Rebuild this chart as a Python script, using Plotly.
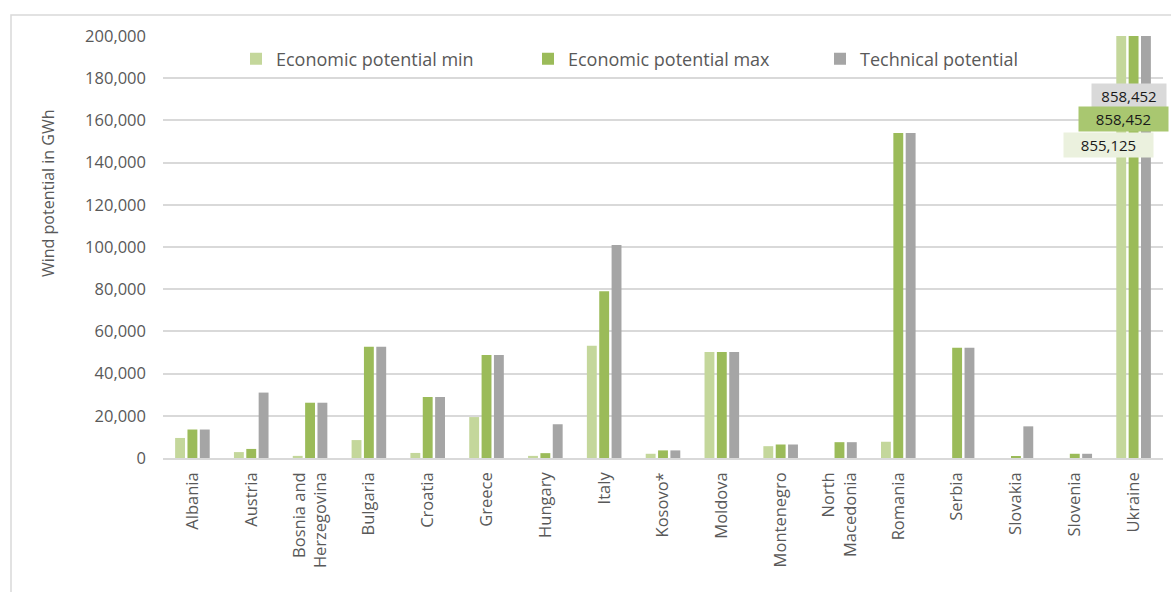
import plotly.graph_objects as go

countries = ["Albania", "Austria", "Bosnia and<br>Herzegovina", "Bulgaria", "Croatia",
             "Greece", "Hungary", "Italy", "Kosovo*", "Moldova", "Montenegro",
             "North<br>Macedonia", "Romania", "Serbia", "Slovakia", "Slovenia", "Ukraine"]

econ_min = [9500, 2800, 1000, 8500, 2400, 19400, 1000, 53200, 2000, 50200, 5600,
            0, 7700, 0, 0, 0, 855125]
econ_max = [13500, 4300, 26200, 52700, 28900, 48800, 2300, 79000, 3600, 50200, 6400,
            7500, 154000, 52300, 500, 2000, 858452]
technical = [13500, 31000, 26200, 52700, 28900, 48800, 16000, 101000, 3600, 50200, 6400,
             7500, 154000, 52300, 15000, 2000, 858452]

series = [
    ("Economic potential min", econ_min, "#c4d79b"),
    ("Economic potential max", econ_max, "#9bbb59"),
    ("Technical potential", technical, "#a5a5a5"),
]

fig = go.Figure()
for name, vals, color in series:
    fig.add_trace(go.Bar(name=name, x=countries, y=vals, marker_color=color,
                         marker_line_width=0))

# plot area geometry in pixels
L, R, T, B = 163, 8, 36, 134
W, H = 1171, 592
pw, ph = W - L - R, H - T - B


def px_x(px):
    return (px - L) / pw


def px_y(py):
    return (H - B - py) / ph


# value labels for the clipped Ukraine bars
labels = [
    (technical[-1], "#d9d9d9", 1129, 96, 72),
    (econ_max[-1], "#a9c770", 1123.5, 119, 87),
    (econ_min[-1], "#ebf1de", 1108.5, 145, 87),
]
for val, bg, cx, cy, w in labels:
    fig.add_annotation(xref="paper", yref="paper", x=px_x(cx), y=px_y(cy),
                       text=f"{val:,}", showarrow=False, bgcolor=bg, width=w, height=22,
                       font=dict(family="Open Sans", size=15, color="#1a1a1a"),
                       xanchor="center", yanchor="middle")

# y-axis title
fig.add_annotation(xref="paper", yref="paper", x=px_x(48), y=px_y(193),
                   text="Wind potential in GWh", showarrow=False, textangle=-90,
                   font=dict(family="Open Sans", size=16, color="#595959"),
                   xanchor="center", yanchor="middle")

# outer chart border
fig.add_shape(type="rect", xref="paper", yref="paper",
              x0=px_x(11), x1=px_x(1180), y0=px_y(600), y1=px_y(15),
              line=dict(color="#d9d9d9", width=1.5), fillcolor="rgba(0,0,0,0)",
              layer="below")

fig.update_layout(
    width=W, height=H,
    margin=dict(l=L, r=R, t=T, b=B),
    paper_bgcolor="white", plot_bgcolor="white",
    barmode="group", bargap=0.37, bargroupgap=0.2,
    font=dict(family="Open Sans", size=16, color="#595959"),
    legend=dict(orientation="h", x=px_x(236), y=px_y(59), xanchor="left", yanchor="middle",
                font=dict(size=18, color="#595959"), entrywidth=247,
                entrywidthmode="pixels", bgcolor="rgba(0,0,0,0)", itemclick=False,
                tracegroupgap=0),
    xaxis=dict(tickangle=-90, showgrid=False, showline=True, linecolor="#d9d9d9",
               linewidth=1.5, ticks="", ticklabelstandoff=6,
               tickfont=dict(size=16.5, color="#595959")),
    yaxis=dict(range=[0, 200000], dtick=20000, tickformat=",", showgrid=True,
               gridcolor="#d9d9d9", gridwidth=1.5, zeroline=False, ticks="",
               ticklabelstandoff=16,
               tickfont=dict(size=16.5, color="#595959")),
)

fig.write_html("out.html")
